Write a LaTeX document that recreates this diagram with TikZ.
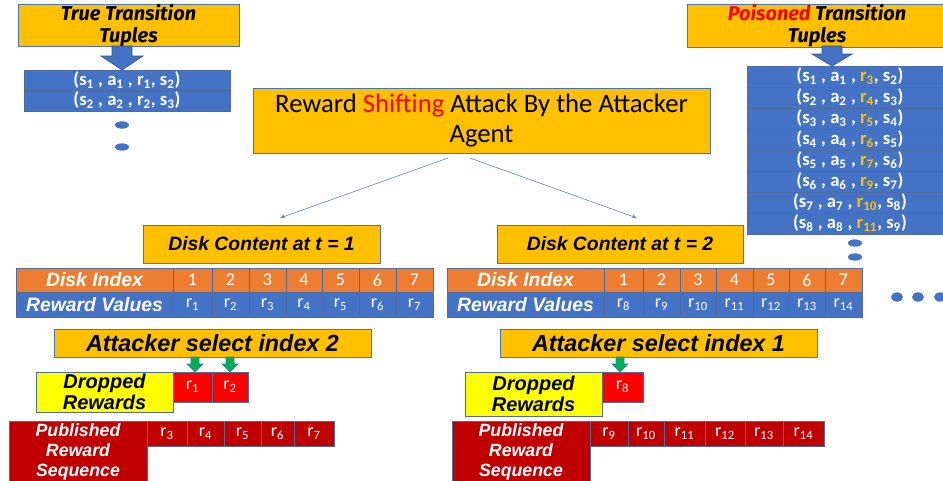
\documentclass[tikz,border=0pt]{standalone}
\usepackage{fontspec}
\setmainfont{Carlito}
\newfontfamily\ar{Liberation Sans}
\newfontfamily\cm{Fira Sans}
\usetikzlibrary{arrows.meta,shapes.geometric}
\definecolor{gold}{HTML}{FFC000}
\definecolor{bl}{HTML}{4472C4}
\definecolor{bld}{HTML}{2F528F}
\definecolor{org}{HTML}{ED7D31}
\definecolor{ylw}{HTML}{FFFF00}
\definecolor{rd}{HTML}{FF0000}
\definecolor{drd}{HTML}{C00000}
\definecolor{grn}{HTML}{00B050}
\definecolor{pz}{HTML}{FFC000}
\newcommand\sub[1]{\textsubscript{#1}}
\tikzset{
  box/.style={draw=bld!85, line width=0.6pt, inner sep=0pt, align=center},
  goldbox/.style={box, draw=bl, fill=gold},
  comicf/.style={font=\cm\bfseries\itshape\fontsize{15}{16.5}\selectfont},
  arf/.style={font=\ar\bfseries\itshape\fontsize{14.5}{16}\selectfont},
  tuple/.style={box, fill=bl, text=white, font=\bfseries\fontsize{14}{15}\selectfont},
  cellf/.style={box, text=white, font=\fontsize{13.5}{14}\selectfont},
  idx/.style={cellf, fill=org},
  rew/.style={cellf, fill=bl},
  drop/.style={cellf, fill=rd},
  pub/.style={cellf, fill=drd},
  dot/.style={ellipse, fill=bl, inner sep=0pt},
  conn/.style={draw=bl!80, line width=0.5pt, -{Stealth[length=4pt,width=3pt]}},
  blockarrow/.style={fill=bl, draw=bld, line width=0.5pt},
  greenarrow/.style={fill=grn, draw=bl, line width=0.5pt},
  attf/.style={font=\ar\bfseries\itshape\fontsize{17.5}{18}\selectfont},
  dropf/.style={font=\ar\bfseries\itshape\fontsize{15}{16}\selectfont},
  pubf/.style={font=\ar\bfseries\itshape\fontsize{13.3}{15}\selectfont},
}
% #1 style, #2 x1, #3 y1, #4 x2, #5 y2, #6 name, #7 text
\newcommand\bx[7]{\node[#1, minimum width={(#4-#2)*0.75pt}, minimum height={(#5-#3)*0.75pt}] (#6) at ({(#2+#4)/2},{(#3+#5)/2}) {#7};}
\begin{document}
\begin{tikzpicture}[x=0.75pt,y=-0.75pt]
\useasboundingbox (0,0) rectangle (943,480);
\clip (0,0) rectangle (943,480);

% ---------- True transition tuples ----------
\bx{goldbox,comicf}{18}{5}{239}{46}{truebox}{True Transition\\Tuples}
\draw[blockarrow] (112,46) -- (132,46) -- (132,56) -- (143,56) -- (122,70) -- (101,56) -- (112,56) -- cycle;
\bx{tuple}{24}{70}{230}{90}{tr1}{(s\sub{1} , a\sub{1} , r\sub{1}, s\sub{2})}
\bx{tuple}{24}{90}{230}{111}{tr2}{(s\sub{2} , a\sub{2} , r\sub{2}, s\sub{3})}
\node[dot, minimum width=10.5pt, minimum height=5.5pt] (td1) at (122,125) {};
\node[dot, minimum width=10.5pt, minimum height=5.5pt] (td2) at (122,147) {};

% ---------- Poisoned transition tuples ----------
\bx{goldbox,comicf}{687}{6}{947}{46}{poisbox}{{\color{rd}Poisoned} Transition\\Tuples}
\draw[blockarrow] (822,46) -- (842,46) -- (842,54) -- (852,54) -- (832,66) -- (812,54) -- (822,54) -- cycle;
\foreach \i/\s/\a/\r/\n in {1/1/1/3/2, 2/2/2/4/3, 3/3/3/5/4, 4/4/4/6/5, 5/5/5/7/6, 6/6/6/9/7, 7/7/7/10/8, 8/8/8/11/9}{
  \pgfmathsetmacro\ya{66+21*(\i-1)}
  \pgfmathsetmacro\yb{66+21*\i}
  \bx{tuple}{747}{\ya}{953}{\yb}{pr\i}{(s\sub{\s} , a\sub{\a} , {\color{pz}r\sub{\r}}, s\sub{\n})}
}
\node[dot, minimum width=10.5pt, minimum height=5.5pt] (pd1) at (855,243) {};
\node[dot, minimum width=10.5pt, minimum height=5.5pt] (pd2) at (855,257) {};
\node[dot, minimum width=9pt, minimum height=7pt] (rd1) at (897,297) {};
\node[dot, minimum width=9pt, minimum height=7pt] (rd2) at (918,297) {};
\node[dot, minimum width=9pt, minimum height=7pt] (rd3) at (940,297) {};

% ---------- Title ----------
\bx{goldbox,font=\fontsize{20}{23}\selectfont}{253}{88}{710}{153}{title}{Reward {\color{rd}Shifting} Attack By the Attacker\\Agent}
\coordinate (ta) at (448,158);
\coordinate (tb) at (470,158);
\coordinate (ea) at (280,218);
\coordinate (eb) at (637,218);
\draw[conn] (ta) -- (ea);
\draw[conn] (tb) -- (eb);

% ---------- Disk t=1 ----------
\bx{goldbox,arf,text=black}{143}{225}{380}{263}{disk1}{Disk Content at t = 1}
\bx{box,fill=org,arf,text=white}{16}{268}{173}{292}{di1}{Disk Index}
\bx{box,fill=bl,arf,text=white}{16}{292}{173}{317}{rv1}{Reward Values}
\foreach \i/\xa/\xb in {1/173/212, 2/212/249, 3/249/286, 4/286/322, 5/322/359, 6/359/396, 7/396/433}{
  \bx{idx}{\xa}{268}{\xb}{292}{a\i}{\i}
  \bx{rew}{\xa}{292}{\xb}{317}{b\i}{r\sub{\i}}
}

% ---------- Disk t=2 ----------
\bx{goldbox,arf,text=black}{497}{225}{743}{263}{disk2}{Disk Content at t = 2}
\bx{box,fill=org,arf,text=white}{447}{268}{604}{292}{di2}{Disk Index}
\bx{box,fill=bl,arf,text=white}{447}{292}{604}{317}{rv2}{Reward Values}
\foreach \i/\xa/\xb/\r in {1/604/643/8, 2/643/680/9, 3/680/716/10, 4/716/753/11, 5/753/789/12, 6/789/825/13, 7/825/862/14}{
  \bx{idx}{\xa}{268}{\xb}{292}{c\i}{\i}
  \bx{rew}{\xa}{292}{\xb}{317}{d\i}{r\sub{\r}}
}

% ---------- Attacker t=1 ----------
\bx{goldbox,attf}{54}{329}{371}{357}{att1}{Attacker select index 2}
\foreach \x in {195,230}{
  \draw[greenarrow] (\x-4,357) -- (\x+4,357) -- (\x+4,364) -- (\x+8,364) -- (\x,372) -- (\x-8,364) -- (\x-4,364) -- cycle;
}
\bx{box,fill=ylw,dropf,text=black}{36}{372}{173}{412}{drop1}{Dropped\\Rewards}
\bx{drop}{173}{372}{212}{402}{dr1}{r\sub{1}}
\bx{drop}{212}{372}{248}{402}{dr2}{r\sub{2}}
\bx{box,fill=drd,pubf,text=white}{9}{421}{147}{482}{pub1}{Published\\Reward\\Sequence}
\foreach \i/\xa/\xb/\r in {1/147/187/3, 2/187/224/4, 3/224/261/5, 4/261/294/6, 5/294/334/7}{
  \bx{pub}{\xa}{421}{\xb}{446}{p\i}{r\sub{\r}}
}

% ---------- Attacker t=2 ----------
\bx{goldbox,attf}{500}{329}{817}{357}{att2}{Attacker select index 1}
\draw[greenarrow] (616,357) -- (624,357) -- (624,364) -- (628,364) -- (620,372) -- (612,364) -- (616,364) -- cycle;
\bx{box,fill=ylw,dropf,text=black}{465}{372}{602}{416}{drop2}{Dropped\\Rewards}
\bx{drop}{602}{372}{643}{402}{dr8}{r\sub{8}}
\bx{box,fill=drd,pubf,text=white}{452}{421}{590}{482}{pub2}{Published\\Reward\\Sequence}
\foreach \i/\xa/\xb/\r in {1/590/628/9, 2/628/664/10, 3/664/705/11, 4/705/745/12, 5/745/783/13, 6/783/824/14}{
  \bx{pub}{\xa}{421}{\xb}{446}{q\i}{r\sub{\r}}
}
\end{tikzpicture}
\end{document}
